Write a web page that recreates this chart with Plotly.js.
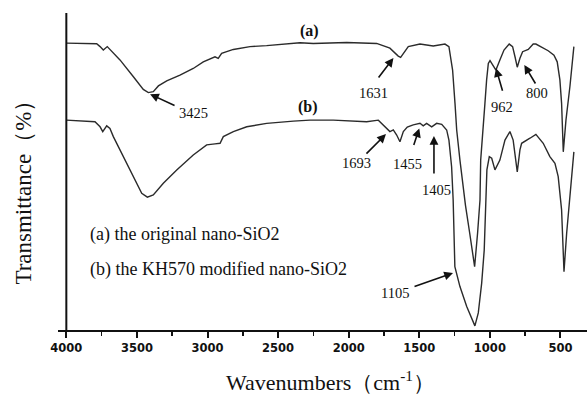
<!DOCTYPE html>
<html>
<head>
<meta charset="utf-8">
<script src="https://cdn.plot.ly/plotly-3.0.1.min.js"></script>
<style>html,body{margin:0;padding:0;background:#fff;}#chart{width:587px;height:395px;}</style>
</head>
<body>
<div id="chart"></div>
<script>
// Curve (a): original nano-SiO2 (wavenumber cm-1, relative transmittance)
const waveA = [4000,3785,3761,3738,3710,3691,3620,3525,3455,3419,3384,3348,3289,3195,3101,3030,2947,2924,2900,2817,2699,2581,2345,2251,2014,1802,1708,1649,1632,1578,1495,1401,1318,1290,1278,1264,1247,1235,1212,1173,1143,1108,1087,1070,1065,1047,1035,1023,1011,999,980,957,929,900,863,839,822,806,787,768,728,693,674,633,587,546,523,504,492,480,461,433,405];
const transA = [90.5,90.3,89.4,88.3,89.4,88.5,85.2,79.9,75.9,74.9,75.2,77.0,78.6,80.4,82.5,84.6,86.2,85.7,87.3,88.5,89.4,89.7,90.6,90.4,90.7,90.4,88.9,86.4,86.0,89.4,90.2,89.6,90.2,89.4,86.5,82.0,71.5,63.1,53.6,39.4,30.6,20.0,30.6,41.0,53.6,63.1,71.5,78.9,84.1,85.0,83.6,82.0,85.2,88.3,90.2,89.4,86.2,82.9,85.7,87.8,88.5,90.2,90.2,89.2,88.1,86.7,84.6,78.9,71.5,56.2,66.2,76.8,89.4];
// Curve (b): KH570 modified nano-SiO2
const waveB = [4000,3797,3761,3742,3714,3691,3667,3596,3525,3466,3426,3384,3313,3218,3101,3006,2947,2911,2888,2817,2722,2581,2392,2274,2109,1873,1790,1743,1708,1684,1660,1637,1613,1585,1543,1495,1472,1448,1412,1377,1341,1306,1290,1271,1260,1248,1212,1164,1106,1082,1058,1040,1028,1021,1004,987,964,929,893,858,835,822,806,787,775,716,674,622,575,539,516,492,475,456,433,405];
const transB = [66.2,65.7,64.1,62.6,64.4,63.6,61.0,54.7,47.9,43.1,41.9,42.6,46.3,50.5,55.2,58.4,58.7,58.9,61.0,62.6,64.1,65.2,65.9,66.2,66.2,65.7,66.2,64.1,62.6,63.1,61.5,59.4,62.6,64.0,64.7,65.2,64.4,65.2,64.1,65.2,64.9,63.1,59.9,51.5,41.0,20.0,13.7,7.4,1.3,5.4,14.8,25.2,41.0,50.5,54.7,54.2,50.5,53.6,59.9,62.6,59.9,55.2,49.9,56.8,58.9,60.5,61.7,58.9,54.7,52.6,48.4,37.9,18.4,30.6,43.0,56.2];

// Peak labels: text, label position, arrow tip, arrow tail offset (px)
const peakText = ['3425','1631','962','800','1693','1455','1405','1105'];
const peakLabelX = [3096,1821,914,667,1948,1587,1375,1672];
const peakLabelY = [68.6,74.8,70.3,74.8,52.7,52.4,44.2,11.7];
const peakTipX = [3407,1683,957,756,1736,1500,1396,1261];
const peakTipY = [74.4,85.8,82.6,83.6,61.8,63.6,61.2,18.0];
const peakTailDX = [26,-16,7,12,-21,-6,0,-40];
const peakTailDY = [12,21,24,20,21,18,39,14];

const seriesTags = ['(a)','(b)'];
const seriesTagX = [2281,2288];
const seriesTagY = [94.3,70.3];
const legendLines = ['(a) the original nano-SiO2','(b) the KH570 modified nano-SiO2'];

const lineColor = '#2b2b2b';
const traces = [
  {x: waveA, y: transA, type: 'scatter', mode: 'lines', line: {color: lineColor, width: 1.4}, hoverinfo: 'skip'},
  {x: waveB, y: transB, type: 'scatter', mode: 'lines', line: {color: lineColor, width: 1.4}, hoverinfo: 'skip'}
];

const annotations = [];
const labelFont = {family: 'Liberation Serif, Times New Roman, serif', size: 14.5, color: '#111'};
for (let i = 0; i < peakText.length; i++) {
  annotations.push({x: peakLabelX[i], y: peakLabelY[i], xref: 'x', yref: 'y', text: peakText[i], showarrow: false, font: labelFont, xanchor: 'center', yanchor: 'middle'});
  annotations.push({x: peakTipX[i], y: peakTipY[i], xref: 'x', yref: 'y', text: '', showarrow: true,
    ax: peakTailDX[i], ay: peakTailDY[i], arrowhead: 2, arrowsize: 1.1, arrowwidth: 1.6, arrowcolor: '#111', standoff: 0, startstandoff: 0});
}
for (let i = 0; i < seriesTags.length; i++) {
  annotations.push({x: seriesTagX[i], y: seriesTagY[i], xref: 'x', yref: 'y', text: seriesTags[i], showarrow: false,
    font: {family: 'Liberation Serif, Times New Roman, serif', size: 16, color: '#111', weight: 'bold'}, xanchor: 'center', yanchor: 'middle'});
}
const legendY = [0.2997, 0.1893];
for (let i = 0; i < legendLines.length; i++) {
  annotations.push({x: 0.0567, y: legendY[i], xref: 'paper', yref: 'paper', text: legendLines[i], showarrow: false,
    font: {family: 'Liberation Serif, Times New Roman, serif', size: 18, color: '#111'}, xanchor: 'left', yanchor: 'middle'});
}
// Axis titles
annotations.push({x: 0.516, y: -0.162, xref: 'paper', yref: 'paper', text: 'Wavenumbers（cm<sup>-1</sup>）', showarrow: false,
  font: {family: 'Liberation Serif, Times New Roman, serif', size: 22, color: '#111'}, xanchor: 'center', yanchor: 'middle'});
annotations.push({x: -0.066, y: 0.4527, xref: 'paper', yref: 'paper', text: 'Transmittance（%）', showarrow: false, textangle: -90,
  font: {family: 'Liberation Serif, Times New Roman, serif', size: 23, color: '#111'}, xanchor: 'center', yanchor: 'middle'});

const layout = {
  width: 587, height: 395,
  margin: {l: 58, r: 0, t: 13, b: 65, pad: 0},
  paper_bgcolor: '#fff', plot_bgcolor: '#fff',
  showlegend: false,
  xaxis: {
    range: [4059, 312], showgrid: false, zeroline: false,
    showline: true, linecolor: '#111', linewidth: 2,
    ticks: 'outside', ticklen: 6, tickwidth: 2, tickcolor: '#111',
    tickmode: 'linear', tick0: 0, dtick: 500,
    minor: {ticks: 'outside', ticklen: 4, tickwidth: 1.5, tickcolor: '#111', dtick: 250, tick0: 0, showgrid: false},
    tickfont: {family: 'DejaVu Sans, Arial, sans-serif', size: 11.5, color: '#111', weight: 'bold'},
    automargin: false
  },
  yaxis: {range: [0, 100], visible: false, fixedrange: true},
  shapes: [
    {type: 'line', xref: 'x', yref: 'y', x0: 4000, x1: 4000, y0: 0, y1: 100, line: {color: '#111', width: 2}}
  ],
  annotations: annotations
};

Plotly.newPlot('chart', traces, layout, {staticPlot: true, displayModeBar: false});
</script>
</body>
</html>
